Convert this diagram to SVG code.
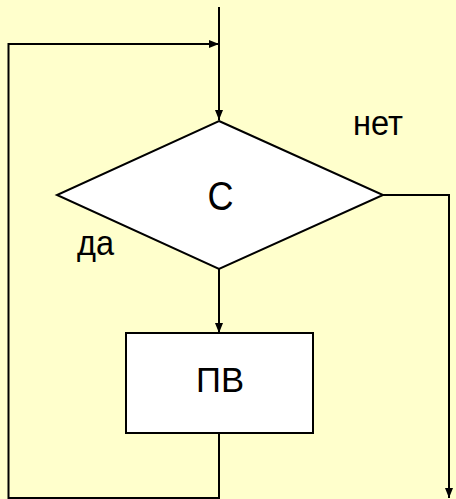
<svg xmlns="http://www.w3.org/2000/svg" width="456" height="499" viewBox="0 0 456 499">
<style>
.ln{fill:none;stroke:#000;stroke-width:2}
.shape{fill:#fff;stroke:#000;stroke-width:2}
.t{font-family:"Liberation Sans",Arial,sans-serif;fill:#000}
</style>
<defs>
<marker id="ah" viewBox="0 0 10 8" refX="10" refY="4" markerWidth="10" markerHeight="8" markerUnits="userSpaceOnUse" orient="auto">
<path d="M0,0 L10,4 L0,8 Z" fill="#000"/>
</marker>
</defs>
<rect width="456" height="499" fill="#FFFFCC"/>
<g id="connectors">
<path class="ln" d="M219,7 V120" marker-end="url(#ah)"/>
<path class="ln" d="M219,433 V498 H8.5 V44 H219" marker-end="url(#ah)"/>
<path class="ln" d="M219,269 V333" marker-end="url(#ah)"/>
<path class="ln" d="M383,195 H449 V498" marker-end="url(#ah)"/>
</g>
<g id="decision">
<polygon class="shape" points="219,121 383,195 219,269 57,195"/>
<text class="t" x="207.5" y="210" font-size="40" textLength="26" lengthAdjust="spacingAndGlyphs">С</text>
</g>
<g id="process">
<rect class="shape" x="126" y="333" width="187" height="100"/>
<text class="t" x="196" y="392" font-size="35" textLength="48" lengthAdjust="spacingAndGlyphs">ПВ</text>
</g>
<g id="labels">
<text class="t" x="353" y="135" font-size="35" textLength="50" lengthAdjust="spacingAndGlyphs">нет</text>
<text class="t" x="77" y="255" font-size="35" textLength="37" lengthAdjust="spacingAndGlyphs">да</text>
</g>
</svg>
